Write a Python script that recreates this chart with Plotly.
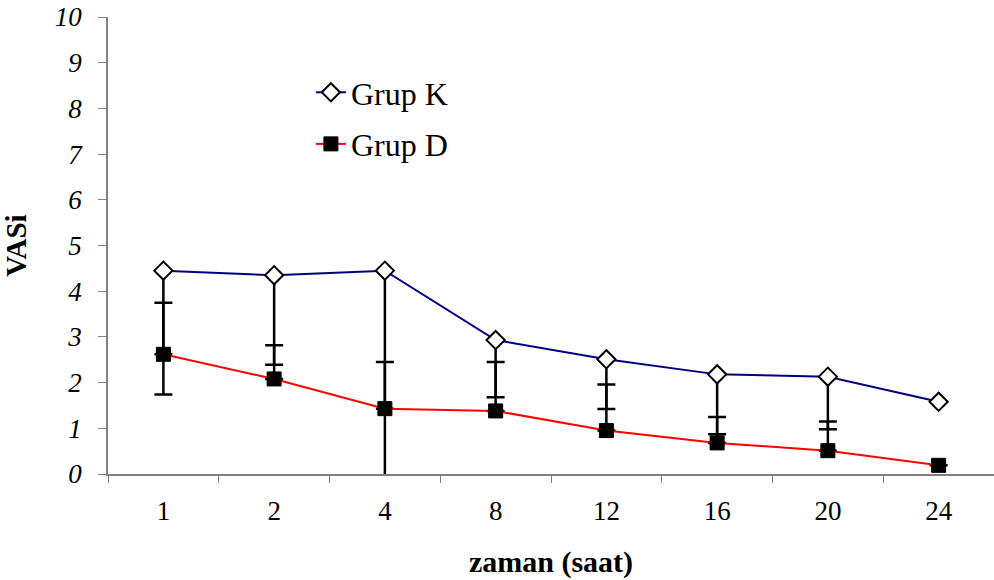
import plotly.graph_objects as go

hours = ["1", "2", "4", "8", "12", "16", "20", "24"]
grup_k = [4.45, 4.35, 4.45, 2.93, 2.51, 2.18, 2.13, 1.58]
grup_k_sd_minus = [2.71, 1.96, 4.65, 1.25, 1.09, 1.31, 1.15, None]
grup_d = [2.62, 2.08, 1.43, 1.38, 0.95, 0.68, 0.51, 0.19]
grup_d_sd_plus = [1.13, 0.74, 1.02, 1.07, 1.01, 0.57, 0.64, None]

zeros_k = [0 if v is not None else None for v in grup_k_sd_minus]
zeros_d = [0 if v is not None else None for v in grup_d_sd_plus]

FONT = "Liberation Serif"

fig = go.Figure()
fig.add_trace(go.Scatter(
    x=hours, y=grup_k, name="Grup K", mode="lines+markers",
    legendgroup="k", cliponaxis=False,
    line=dict(color="#000080", width=2),
    marker=dict(symbol="diamond", size=14, color="white",
                line=dict(color="black", width=2)),
    error_y=dict(type="data", symmetric=False, array=zeros_k,
                 arrayminus=grup_k_sd_minus, color="black",
                 thickness=2.5, width=9),
))
fig.add_trace(go.Scatter(
    x=hours, y=grup_d, name="Grup D", mode="lines+markers",
    legendgroup="d", cliponaxis=False,
    line=dict(color="red", width=2),
    marker=dict(symbol="square", size=14, color="black",
                line=dict(color="black", width=1)),
    error_y=dict(type="data", symmetric=False, array=grup_d_sd_plus,
                 arrayminus=zeros_d, color="black",
                 thickness=2.5, width=9),
))

fig.update_layout(
    width=994, height=580,
    margin=dict(l=108, r=0, t=17, b=106, autoexpand=False),
    paper_bgcolor="white", plot_bgcolor="white",
    font=dict(family=FONT, color="black"),
    showlegend=True,
    legend=dict(x=0.229, y=0.895, xanchor="left", yanchor="top",
                bgcolor="rgba(0,0,0,0)", font=dict(size=32, family=FONT),
                traceorder="grouped", tracegroupgap=7),
    xaxis=dict(
        type="category", range=[-0.5, 7.5], automargin=False,
        showline=True, linecolor="#808080", linewidth=1.5,
        ticks="outside", tickson="boundaries", ticklen=7,
        tickcolor="#808080", tickwidth=1.2,
        showgrid=False, zeroline=False,
        tickfont=dict(size=27, family=FONT), ticklabelstandoff=12,
        title=dict(text="<b>zaman (saat)</b>", font=dict(size=30, family=FONT),
                   standoff=26),
    ),
    yaxis=dict(
        range=[0, 10], dtick=1, tick0=0, automargin=False,
        showline=True, linecolor="#808080", linewidth=1.5,
        ticks="outside", ticklen=8, tickcolor="#808080", tickwidth=1.2,
        showgrid=False, zeroline=False, ticklabeloverflow="allow",
        tickfont=dict(size=27, family=FONT), ticklabelstandoff=11,
        tickprefix="<i>", ticksuffix="</i>",
        title=dict(text="<b>VASi</b>", font=dict(size=29, family=FONT),
                   standoff=32),
    ),
)

fig.write_html("out.html",
               config={"displayModeBar": False},
               post_script="document.body.style.margin='0';")
